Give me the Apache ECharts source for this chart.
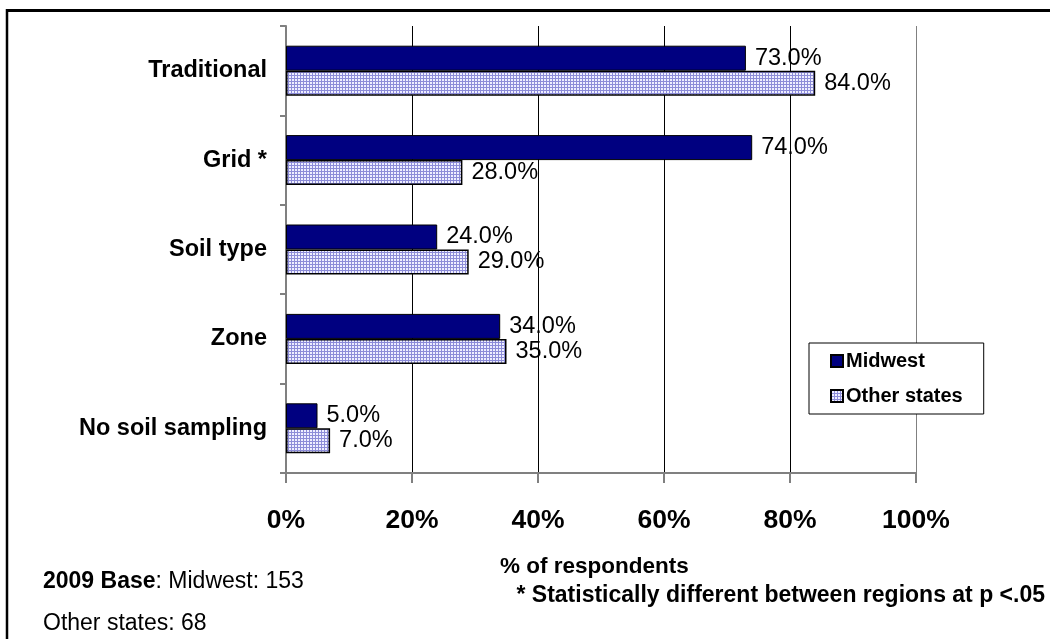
<!DOCTYPE html>
<html>
<head>
<meta charset="utf-8">
<script src="https://cdn.jsdelivr.net/npm/echarts@6/dist/echarts.min.js"></script>
<style>
html,body{margin:0;padding:0;background:#fff;}
#chart{width:1050px;height:639px;}
</style>
</head>
<body>
<div id="chart"></div>
<script>
var categories = ['Traditional', 'Grid *', 'Soil type', 'Zone', 'No soil sampling'];
var seriesNames = ['Midwest', 'Other states'];
var midwest = [73, 74, 24, 34, 5];
var otherStates = [84, 28, 29, 35, 7];
var tickLabels = ['0%', '20%', '40%', '60%', '80%', '100%'];

var FONT = '"Liberation Sans", Arial, sans-serif';

// crosshatch pattern for "Other states"
var pc = document.createElement('canvas');
pc.width = 3; pc.height = 3;
var pctx = pc.getContext('2d');
pctx.fillStyle = '#eeeeff';
pctx.fillRect(0, 0, 3, 3);
pctx.fillStyle = '#8c8cd8';
pctx.fillRect(0, 0, 3, 1);
pctx.fillRect(0, 0, 1, 3);
var hatch = { image: pc, repeat: 'repeat' };

var chart = echarts.init(document.getElementById('chart'), null, { renderer: 'canvas' });

var labelOpt = {
  show: true,
  position: 'right',
  distance: 9,
  color: '#000',
  fontFamily: FONT,
  fontSize: 23.5,
  formatter: function (p) { return p.value.toFixed(1) + '%'; }
};

chart.setOption({
  animation: false,
  backgroundColor: '#fff',
  grid: { left: 286, right: 134, top: 26, bottom: 166, containLabel: false },
  legend: {
    data: seriesNames,
    orient: 'vertical',
    icon: 'rect',
    left: 809,
    top: 343,
    padding: [8, 21, 8, 21],
    itemGap: 15,
    itemWidth: 12,
    itemHeight: 12,
    borderColor: '#000',
    borderWidth: 1,
    backgroundColor: '#fff',
    textStyle: { fontFamily: FONT, fontWeight: 'bold', fontSize: 20, color: '#000', padding: [0, 0, 0, -2] }
  },
  xAxis: {
    type: 'value',
    min: 0,
    max: 100,
    interval: 20,
    axisLine: { show: true, lineStyle: { color: '#808080', width: 2 } },
    axisTick: { show: true, length: 10, lineStyle: { color: '#808080', width: 2 } },
    axisLabel: {
      margin: 34,
      fontFamily: FONT,
      fontWeight: 'bold',
      fontSize: 26.5,
      color: '#000',
      formatter: function (v) { return tickLabels[Math.round(v / 20)]; }
    },
    splitLine: { show: true, lineStyle: { color: ['#808080', '#000', '#000', '#000', '#000', '#808080'], width: 1 } }
  },
  yAxis: {
    type: 'category',
    data: categories,
    inverse: true,
    axisLine: { show: true, lineStyle: { color: '#808080', width: 2 } },
    axisTick: { show: true, length: 6, lineStyle: { color: '#808080', width: 2 } },
    axisLabel: {
      margin: 19,
      fontFamily: FONT,
      fontWeight: 'bold',
      fontSize: 23.5,
      color: '#000'
    },
    splitLine: { show: false }
  },
  series: [
    {
      name: seriesNames[0],
      type: 'bar',
      data: midwest,
      barWidth: 25,
      barGap: '0%',
      itemStyle: { color: '#000080', borderColor: '#000', borderWidth: 1 },
      label: labelOpt
    },
    {
      name: seriesNames[1],
      type: 'bar',
      data: otherStates,
      barWidth: 25,
      barGap: '0%',
      itemStyle: { color: hatch, borderColor: '#000', borderWidth: 1.5 },
      label: labelOpt
    }
  ],
  graphic: [
    { type: 'line', shape: { x1: 7, y1: 10.5, x2: 1050, y2: 10.5 }, style: { stroke: '#000', lineWidth: 3 } },
    { type: 'line', shape: { x1: 7, y1: 9, x2: 7, y2: 639 }, style: { stroke: '#000', lineWidth: 2.5 } },
    {
      type: 'text', left: 500, top: 555,
      style: { text: '% of respondents', font: 'bold 22.5px ' + FONT, fill: '#000' }
    },
    {
      type: 'text', right: 5, top: 584,
      style: { text: '* Statistically different between regions at p <.05', font: 'bold 23px ' + FONT, fill: '#000' }
    },
    {
      type: 'text', left: 43, top: 570,
      style: {
        text: '{b|2009 Base}{n|: Midwest: 153}',
        rich: {
          b: { fontFamily: FONT, fontWeight: 'bold', fontSize: 23, fill: '#000', color: '#000' },
          n: { fontFamily: FONT, fontSize: 23, fill: '#000', color: '#000' }
        }
      }
    },
    {
      type: 'text', left: 43, top: 612,
      style: { text: 'Other states: 68', font: '23px ' + FONT, fill: '#000' }
    }
  ]
});
</script>
</body>
</html>
